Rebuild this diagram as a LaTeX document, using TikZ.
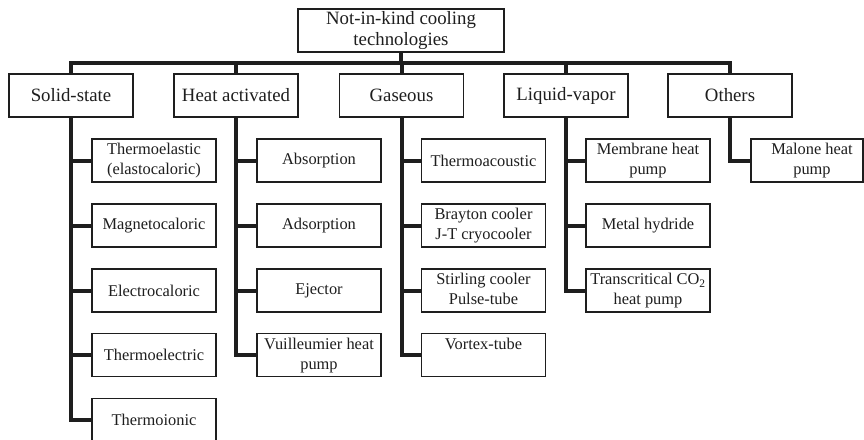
\documentclass[tikz,border=0pt]{standalone}
\usepackage{fontspec}
\setmainfont{Liberation Serif}
\definecolor{ink}{HTML}{1E1E1E}
\begin{document}
\begin{tikzpicture}[x=1pt,y=-1pt,
  nbox/.style={draw=ink, line width=1.2pt, fill=white, inner sep=0pt, align=center, text=ink},
  topbox/.style={nbox, minimum width=206pt, minimum height=43pt, font=\fontsize{18.8}{21}\selectfont},
  catbox/.style={nbox, minimum width=124pt, minimum height=43pt, font=\fontsize{18.8}{21}\selectfont},
  itembox/.style={nbox, minimum width=124pt, minimum height=43pt, font=\fontsize{16.4}{20}\selectfont},
  trunk/.style={draw=ink, line width=4pt, line join=miter}]
\useasboundingbox (0,0) rectangle (864,439);
% root and categories
\node[topbox] (top) at (401,30.5) {Not-in-kind cooling\\technologies};
\coordinate (bus) at (401,63);
\node[catbox] (ss) at (71,95.5) {Solid-state};
\node[catbox] (ha) at (236,95.5) {Heat activated};
\node[catbox] (ga) at (401.5,95.5) {Gaseous};
\node[catbox] (lv) at (566,95.5) {Liquid-vapor};
\node[catbox] (ot) at (730,95.5) {Others};
% solid-state
\node[itembox] (s1) at (154,160.5) {\strut Thermoelastic\\\strut(elastocaloric)};
\node[itembox] (s2) at (154,225.5) {Magnetocaloric};
\node[itembox] (s3) at (154,290.5) {Electrocaloric};
\node[itembox] (s4) at (154,355) {Thermoelectric};
\node[itembox] (s5) at (154,420) {Thermoionic};
% heat activated
\node[itembox] (h1) at (319,160.5) {Absorption};
\node[itembox] (h2) at (319,225.5) {Adsorption};
\node[itembox] (h3) at (319,290.5) {Ejector};
\node[itembox] (h4) at (319,355) {\strut Vuilleumier heat\\\strut pump};
% gaseous
\node[itembox] (g1) at (483.5,160.5) {Thermoacoustic};
\node[itembox] (g2) at (483.5,225.5) {\strut Brayton cooler\\\strut J-T cryocooler};
\node[itembox] (g3) at (483.5,290.5) {\strut Stirling cooler\\\strut Pulse-tube};
\node[itembox] (g4) at (483.5,355) {\strut Vortex-tube\\\strut};
% liquid-vapor
\node[itembox] (l1) at (648,160.5) {\strut Membrane heat\\\strut pump};
\node[itembox] (l2) at (648,225.5) {Metal hydride};
\node[itembox] (l3) at (648,290.5) {\strut Transcritical CO\textsubscript{2}\\\strut heat pump};
% others
\node[itembox, minimum width=112pt] (o1) at (807,160.5) {\strut\hspace*{10pt}Malone heat\\\strut\hspace*{10pt}pump};
% connectors: root to categories
\draw[trunk] (ss.north) |- (bus) -| (ot.north);
\draw[trunk] (top.south) -- (bus);
\foreach \n in {ha,ga,lv} \draw[trunk] (\n.north) -- (\n.north |- bus);
% category trunks
\draw[trunk] (ss.south) |- (s5.west);
\foreach \c in {s1,s2,s3,s4} \draw[trunk] (ss.south |- \c.west) -- (\c.west);
\draw[trunk] (ha.south) |- (h4.west);
\foreach \c in {h1,h2,h3} \draw[trunk] (ha.south |- \c.west) -- (\c.west);
\draw[trunk] (ga.south) |- (g4.west);
\foreach \c in {g1,g2,g3} \draw[trunk] (ga.south |- \c.west) -- (\c.west);
\draw[trunk] (lv.south) |- (l3.west);
\foreach \c in {l1,l2} \draw[trunk] (lv.south |- \c.west) -- (\c.west);
\draw[trunk] (ot.south) |- (o1.west);
\end{tikzpicture}
\end{document}
